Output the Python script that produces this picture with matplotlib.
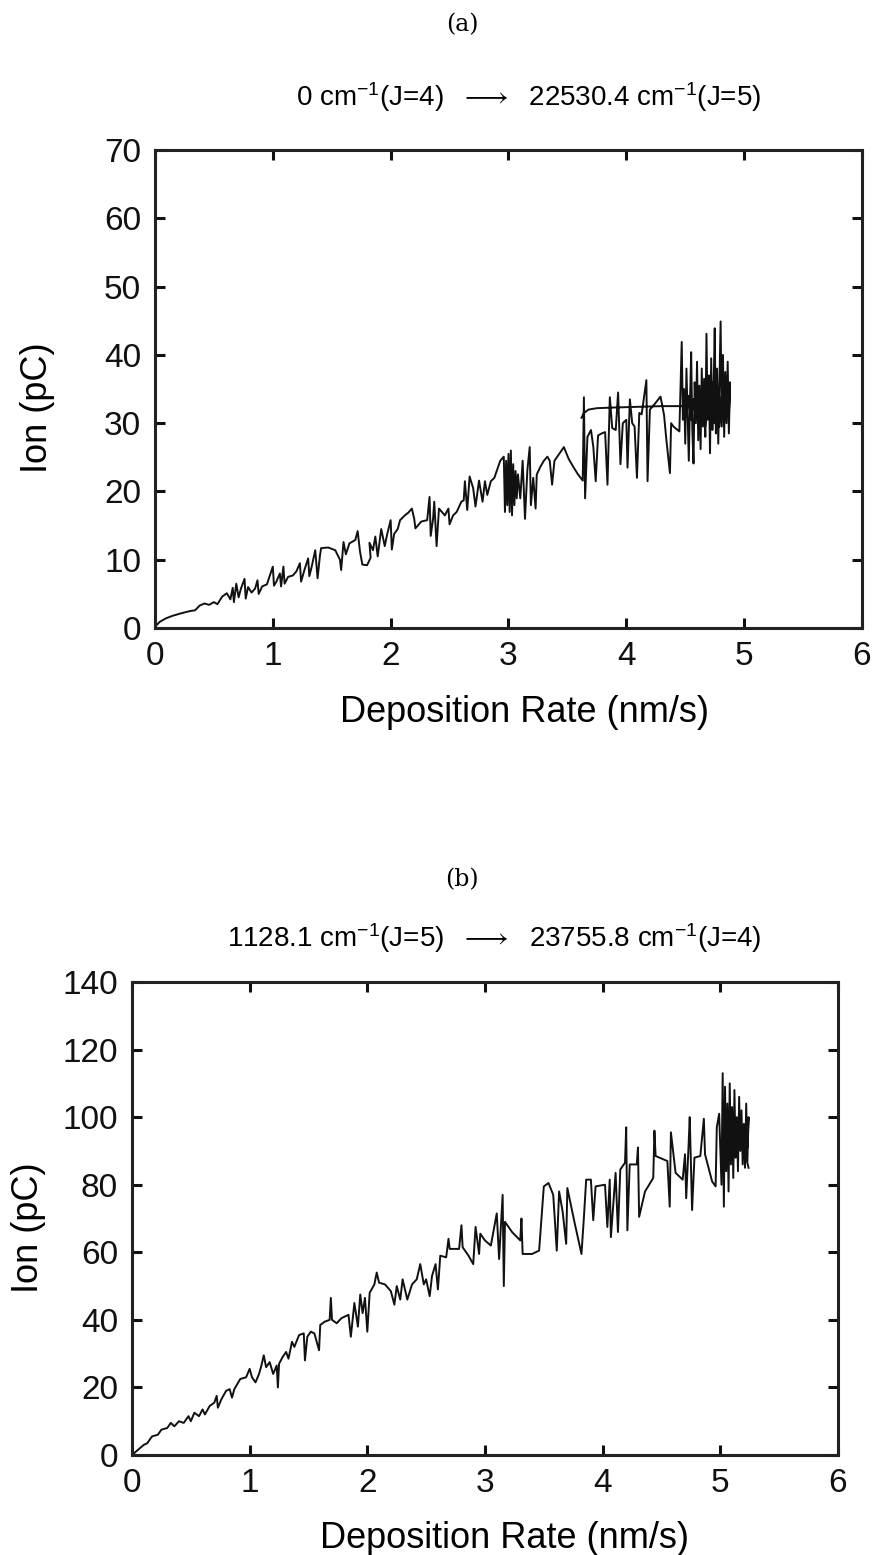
import matplotlib
matplotlib.use("Agg")
import matplotlib.pyplot as plt

# fonty - Helvetica-like; STIX sans za strelicu u mathtextu
plt.rcParams['font.family'] = ['Liberation Sans', 'DejaVu Sans']
plt.rcParams['mathtext.fontset'] = 'custom'
plt.rcParams['mathtext.rm'] = 'Liberation Sans'
plt.rcParams['mathtext.default'] = 'regular'
plt.rcParams['mathtext.fallback'] = 'stixsans'

# ---------------- podaci (a) ----------------
x_a = [0.00, 0.04, 0.09, 0.15, 0.23, 0.30, 0.34, 0.38, 0.42, 0.46, 0.50, 0.53, 0.57, 0.61, 0.64, 0.66,
       0.67, 0.69, 0.71, 0.73, 0.76, 0.77, 0.79, 0.82, 0.85, 0.87, 0.88, 0.91, 0.95, 1.00, 1.01, 1.03,
       1.06, 1.07, 1.09, 1.10, 1.13, 1.17, 1.20, 1.23, 1.24, 1.27, 1.30, 1.31, 1.33, 1.36, 1.38, 1.40,
       1.41, 1.47, 1.53, 1.57, 1.58, 1.60, 1.62, 1.65, 1.70, 1.72, 1.74, 1.76, 1.80, 1.83, 1.82, 1.85,
       1.87, 1.89, 1.92, 1.95, 1.97, 2.00, 2.01, 2.03, 2.06, 2.08, 2.12, 2.15, 2.18, 2.20, 2.21, 2.26,
       2.31, 2.33, 2.34, 2.36, 2.37, 2.39, 2.41, 2.46, 2.49, 2.50, 2.53, 2.56, 2.60, 2.62, 2.63, 2.65,
       2.67, 2.70, 2.72, 2.75, 2.78, 2.80, 2.82, 2.85, 2.88, 2.90, 2.93, 2.96, 2.97, 2.98, 2.99, 3.00,
       3.01, 3.02, 3.03, 3.04, 3.05, 3.06, 3.07, 3.08, 3.10, 3.12, 3.14, 3.16, 3.18, 3.19, 3.21, 3.23,
       3.24, 3.27, 3.30, 3.33, 3.35, 3.37, 3.39, 3.43, 3.47, 3.51, 3.55, 3.59, 3.63, 3.64, 3.65, 3.67,
       3.70, 3.72, 3.74, 3.76, 3.79, 3.82, 3.84, 3.86, 3.88, 3.91, 3.93, 3.95, 3.97, 4.00, 4.01, 4.03,
       4.05, 4.07, 4.09, 4.11, 4.13, 4.17, 4.18, 4.20, 4.24, 4.29, 4.32, 4.34, 4.37, 4.38, 4.40, 4.45,
       4.47, 4.48, 4.49, 4.50, 4.51, 4.52, 4.53, 4.54, 4.55, 4.56, 4.57, 4.58, 4.59, 4.60, 4.61, 4.62,
       4.63, 4.64, 4.65, 4.66, 4.67, 4.68, 4.69, 4.70, 4.71, 4.72, 4.73, 4.74, 4.75, 4.76, 4.77, 4.78,
       4.79, 4.80, 4.81, 4.82, 4.83, 4.84, 4.85, 4.86, 4.87, 4.88, 4.87, 4.85, 4.83, 4.81, 4.79, 4.77,
       4.75, 4.73, 4.71, 4.69, 4.67, 4.65, 4.63, 4.61, 4.59, 4.57, 4.55, 4.53, 4.51, 4.50, 4.45, 4.30,
       4.10, 3.90, 3.75, 3.68, 3.64, 3.62]
y_a = [0.2, 0.9, 1.4, 1.8, 2.2, 2.5, 2.6, 3.3, 3.6, 3.4, 3.8, 3.5, 4.6, 5.1, 4.2, 5.9,
       3.8, 6.5, 4.5, 5.8, 7.2, 4.3, 6.0, 5.2, 5.8, 7.0, 5.0, 6.1, 6.4, 9.0, 6.2, 6.8,
       8.0, 6.1, 9.0, 6.5, 7.5, 7.7, 8.3, 9.5, 6.8, 8.6, 10.2, 7.6, 9.0, 11.4, 7.3, 10.6,
       11.7, 11.8, 11.4, 10.0, 8.5, 12.6, 10.8, 12.4, 12.9, 14.2, 11.2, 9.3, 9.2, 10.3, 12.5, 11.4,
       13.4, 10.5, 14.5, 12.0, 13.7, 15.8, 11.5, 13.8, 14.5, 15.8, 16.5, 16.9, 17.5, 16.0, 14.6, 15.6,
       15.8, 19.2, 13.5, 16.0, 18.5, 12.0, 17.5, 16.5, 17.5, 15.2, 16.5, 17.0, 18.5, 18.7, 21.5, 17.3,
       22.2, 20.5, 17.8, 21.6, 18.5, 21.5, 19.5, 21.5, 22.0, 23.0, 24.5, 25.1, 17.0, 24.5, 18.0, 25.5,
       17.0, 26.0, 16.5, 24.0, 18.0, 23.0, 19.0, 22.5, 19.0, 24.5, 16.0, 23.1, 26.5, 18.0, 22.0, 17.5,
       22.5, 23.6, 24.5, 25.1, 24.5, 21.0, 24.5, 25.5, 26.5, 24.8, 23.6, 22.5, 21.6, 33.8, 19.0, 28.0,
       29.0, 26.5, 21.5, 28.2, 28.5, 28.7, 21.0, 33.8, 29.3, 29.0, 34.5, 24.0, 30.0, 30.5, 23.5, 33.5,
       30.0, 29.5, 22.0, 31.5, 31.3, 36.3, 21.5, 32.0, 32.8, 33.9, 31.2, 27.5, 22.7, 30.0, 29.5, 28.8,
       41.9, 30.5, 35.0, 27.0, 38.0, 31.0, 24.5, 33.0, 40.4, 29.0, 24.1, 36.0, 30.0, 39.0, 27.5, 35.5,
       26.2, 38.0, 29.5, 36.5, 28.0, 43.1, 30.5, 37.0, 25.6, 39.5, 29.0, 34.5, 43.9, 28.5, 38.0, 27.0,
       36.0, 44.9, 29.5, 40.0, 28.0, 37.5, 30.0, 39.0, 28.5, 36.0, 31.0, 35.5, 30.5, 34.0, 29.5, 35.0,
       30.0, 36.0, 31.0, 34.5, 29.5, 35.0, 30.5, 34.0, 31.5, 33.5, 30.5, 34.0, 31.0, 32.5, 32.5, 32.5,
       32.4, 32.3, 32.2, 32.0, 31.5, 30.8]

# ---------------- podaci (b) ----------------
x_b = [0.00, 0.05, 0.10, 0.13, 0.17, 0.22, 0.25, 0.30, 0.33, 0.36, 0.40, 0.44, 0.48, 0.50, 0.53, 0.57,
       0.60, 0.62, 0.66, 0.70, 0.72, 0.73, 0.76, 0.80, 0.83, 0.85, 0.87, 0.92, 0.97, 1.00, 1.02, 1.05,
       1.08, 1.10, 1.12, 1.14, 1.17, 1.20, 1.23, 1.24, 1.25, 1.28, 1.31, 1.33, 1.36, 1.38, 1.42, 1.46,
       1.47, 1.49, 1.52, 1.55, 1.59, 1.60, 1.64, 1.68, 1.69, 1.70, 1.74, 1.78, 1.84, 1.86, 1.89, 1.92,
       1.94, 1.96, 1.98, 2.00, 2.02, 2.06, 2.08, 2.10, 2.15, 2.20, 2.23, 2.25, 2.28, 2.30, 2.34, 2.38,
       2.42, 2.45, 2.48, 2.50, 2.53, 2.55, 2.58, 2.60, 2.62, 2.67, 2.69, 2.70, 2.78, 2.80, 2.81, 2.86,
       2.90, 2.92, 2.95, 2.96, 3.00, 3.05, 3.10, 3.12, 3.15, 3.16, 3.17, 3.23, 3.30, 3.31, 3.32, 3.40,
       3.46, 3.50, 3.54, 3.58, 3.61, 3.63, 3.66, 3.69, 3.70, 3.76, 3.82, 3.84, 3.86, 3.90, 3.92, 3.94,
       4.02, 4.04, 4.06, 4.07, 4.11, 4.13, 4.15, 4.19, 4.20, 4.21, 4.23, 4.29, 4.30, 4.31, 4.36, 4.43,
       4.44, 4.45, 4.55, 4.57, 4.58, 4.62, 4.68, 4.70, 4.71, 4.73, 4.74, 4.76, 4.78, 4.83, 4.86, 4.87,
       4.93, 4.96, 4.97, 4.99, 5.01, 5.02, 5.03, 5.04, 5.05, 5.06, 5.07, 5.08, 5.09, 5.10, 5.11, 5.12,
       5.13, 5.14, 5.15, 5.16, 5.17, 5.18, 5.19, 5.20, 5.21, 5.22, 5.23, 5.24, 5.23, 5.21, 5.19, 5.17,
       5.15, 5.13, 5.11, 5.09, 5.07, 5.05, 5.07, 5.10, 5.14, 5.18, 5.22, 5.24]
y_b = [0.0, 1.5, 3.0, 3.5, 5.5, 6.0, 7.5, 8.0, 9.5, 8.5, 10.0, 9.5, 11.5, 10.0, 12.5, 11.5,
       13.5, 12.0, 14.5, 15.5, 17.5, 14.0, 16.5, 19.0, 19.5, 17.0, 19.5, 22.5, 23.0, 25.5, 23.0, 21.5,
       24.0, 26.5, 29.5, 26.0, 27.5, 24.0, 26.5, 20.0, 27.0, 29.0, 30.5, 28.5, 33.5, 32.0, 35.5, 36.0,
       28.0, 35.0, 36.5, 36.0, 31.0, 38.5, 39.5, 40.0, 46.5, 40.0, 39.0, 40.5, 41.5, 35.0, 45.0, 38.0,
       47.5, 42.0, 46.5, 36.5, 48.0, 50.5, 54.0, 51.0, 50.5, 48.5, 44.5, 50.0, 46.0, 52.0, 46.0, 50.5,
       52.0, 56.5, 50.5, 52.0, 47.0, 53.0, 56.5, 49.0, 59.0, 58.5, 64.0, 61.0, 61.0, 68.0, 61.5, 59.0,
       56.5, 67.5, 59.5, 65.5, 63.5, 62.0, 71.5, 58.0, 77.0, 50.0, 69.0, 66.0, 63.5, 70.0, 59.5, 59.5,
       60.5, 79.5, 80.5, 77.0, 60.5, 78.0, 72.0, 62.5, 79.0, 69.0, 59.5, 70.0, 81.5, 81.5, 69.5, 79.5,
       80.0, 67.5, 81.5, 64.5, 83.5, 66.0, 84.5, 86.5, 97.0, 66.5, 86.0, 86.0, 91.0, 70.5, 78.0, 82.0,
       96.0, 88.5, 87.0, 73.5, 95.5, 83.5, 81.5, 89.0, 76.0, 91.5, 100.0, 72.5, 88.0, 88.5, 99.5, 89.0,
       81.0, 79.5, 97.0, 101.0, 80.0, 113.0, 73.5, 109.0, 84.0, 104.0, 78.0, 110.0, 86.0, 103.0, 82.0, 108.0,
       88.0, 100.0, 84.0, 106.0, 90.0, 102.0, 86.0, 98.0, 85.0, 104.0, 87.0, 100.0, 91.0, 97.0, 92.0, 99.0,
       93.0, 97.0, 91.0, 98.0, 92.0, 96.0, 90.0, 95.0, 89.0, 94.0, 88.0, 85.0]

x_ticks = [0, 1, 2, 3, 4, 5, 6]
y_ticks_a = [0, 10, 20, 30, 40, 50, 60, 70]
y_ticks_b = [0, 20, 40, 60, 80, 100, 120, 140]

naslov_a = r"0 cm$^{-1}$(J=4)  $\longrightarrow$  22530.4 cm$^{-1}$(J=5)"
naslov_b = r"1128.1 cm$^{-1}$(J=5)  $\longrightarrow$  23755.8 cm$^{-1}$(J=4)"


def uredi_os(ax, y_ticks, ymax):
    """Zajednicki stil obje osi: tick-ovi prema unutra na sve cetiri strane."""
    ax.set_xlim(0, 6)
    ax.set_ylim(0, ymax)
    ax.set_xticks(x_ticks)
    ax.set_yticks(y_ticks)
    ax.tick_params(direction='in', top=True, right=True, length=7, width=2.2,
                   labelsize=24, colors='#111111')
    ax.tick_params(axis='x', pad=9)
    ax.tick_params(axis='y', pad=10)
    for s in ax.spines.values():
        s.set_linewidth(2.2)
        s.set_color('#222222')
    ax.set_xlabel("Deposition Rate (nm/s)", fontsize=26, va='top')
    ax.set_ylabel("Ion (pC)", fontsize=26)


fig = plt.figure(figsize=(8.74, 15.55), dpi=100)

# panel (a)
ax1 = fig.add_axes([0.1773, 0.5961, 0.809, 0.3074])
ax1.plot(x_a, y_a, color='#111111', linewidth=1.4)
uredi_os(ax1, y_ticks_a, 70)
ax1.xaxis.set_label_coords(0.523, -0.14)
ax1.yaxis.set_label_coords(-0.141, 0.46)

# panel (b)
ax2 = fig.add_axes([0.1510, 0.0643, 0.8078, 0.3042])
ax2.plot(x_b, y_b, color='#111111', linewidth=1.4)
uredi_os(ax2, y_ticks_b, 140)
ax2.xaxis.set_label_coords(0.527, -0.14)
ax2.yaxis.set_label_coords(-0.122, 0.48)

# naslovi
fig.text(0.5286, 0.984, "(a)", family='DejaVu Serif', fontsize=17, ha='center', va='center')
fig.text(0.605, 0.9376, naslov_a, fontsize=20, ha='center', va='center')
fig.text(0.5286, 0.434, "(b)", family='DejaVu Serif', fontsize=17, ha='center', va='center')
fig.text(0.565, 0.397, naslov_b, fontsize=20, ha='center', va='center')

fig.savefig("out.png", dpi=100)
